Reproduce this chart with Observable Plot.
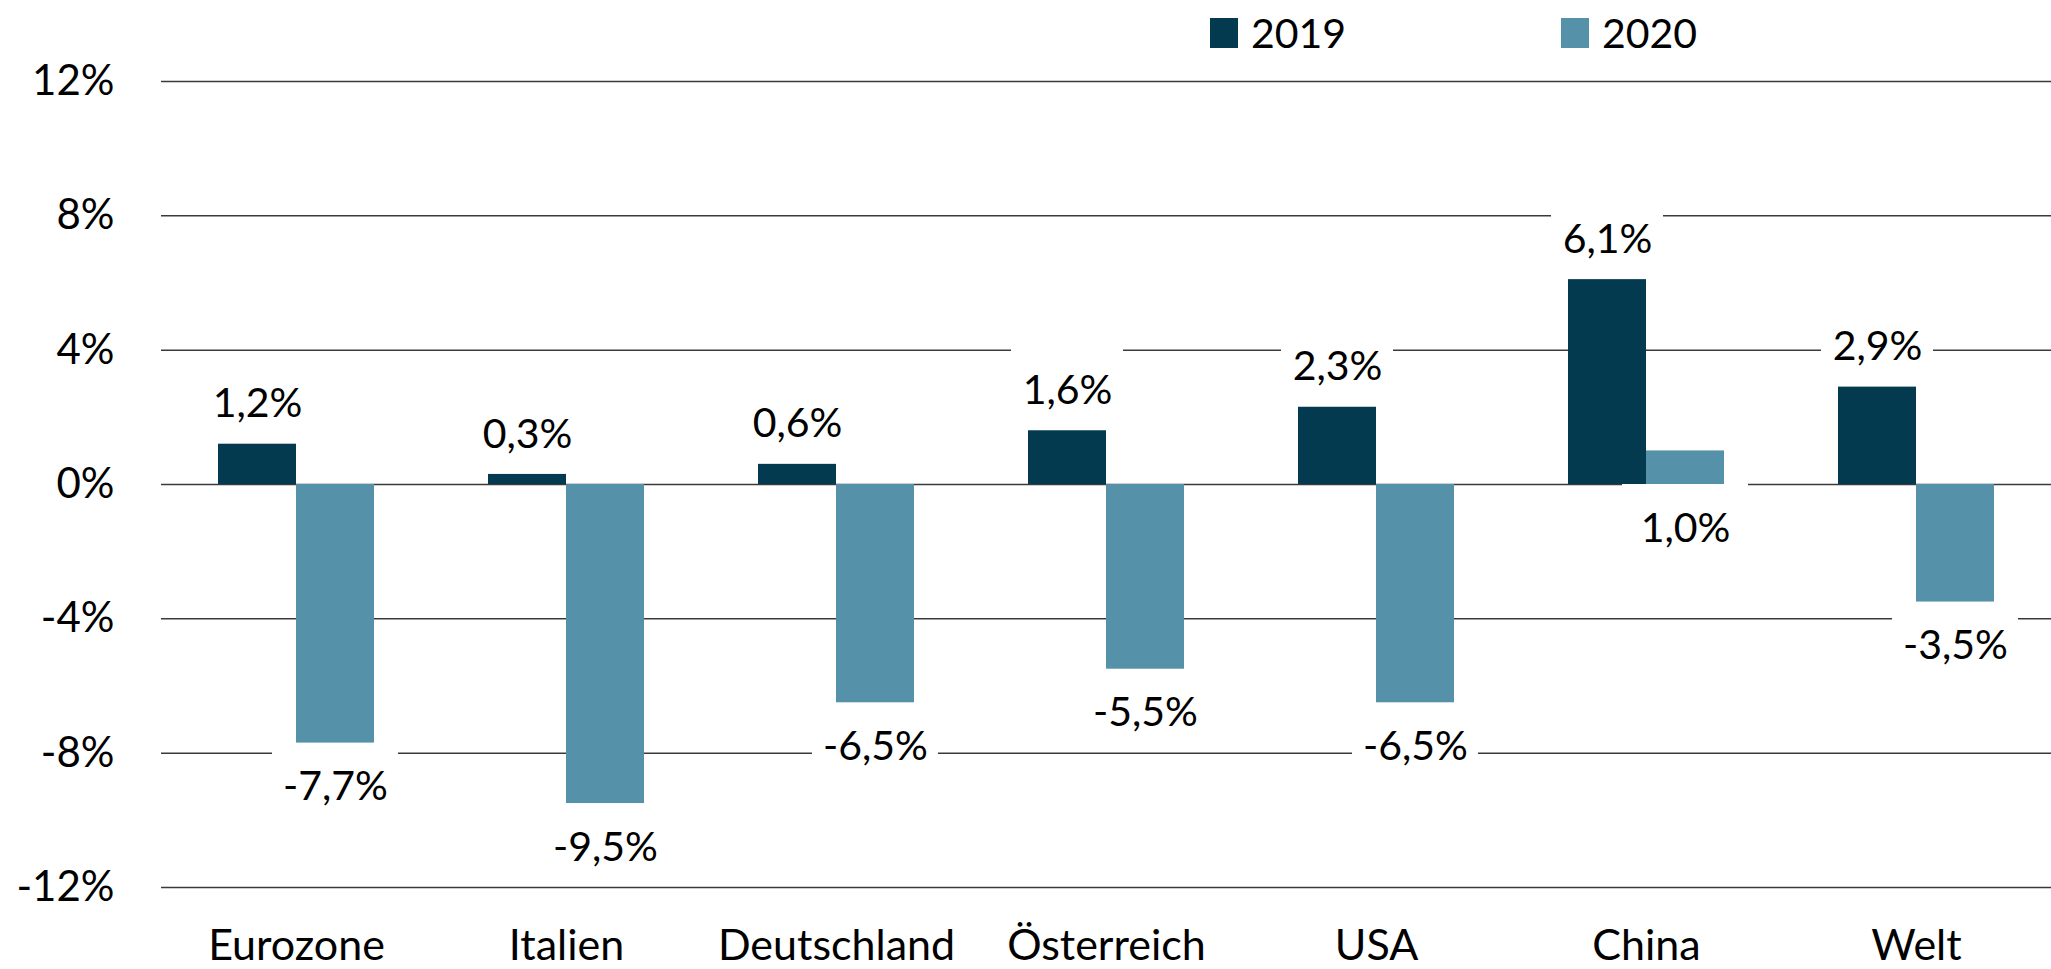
<!DOCTYPE html>
<html>
<head>
<meta charset="utf-8">
<script src="https://cdn.jsdelivr.net/npm/d3@7"></script>
<script src="https://cdn.jsdelivr.net/npm/@observablehq/plot@0.6"></script>
<style>
  html, body { margin: 0; padding: 0; background: #fff; }
  #wrap { position: relative; width: 2051px; height: 969px; }
  #chart svg { display: block; }
  #legend { position: absolute; left: 1210px; top: 8px; display: flex; font-family: Lato, sans-serif; font-size: 41px; color: #000; }
  .item { display: flex; align-items: center; }
  .item:first-child { width: 351px; }
  .sw { width: 28px; height: 30px; margin-right: 13px; }
</style>
</head>
<body>
<div id="wrap">
  <div id="chart"></div>
  <div id="legend"></div>
</div>
<script>
const countries = ["Eurozone", "Italien", "Deutschland", "Österreich", "USA", "China", "Welt"];
const years = ["2019", "2020"];
const growth2019 = [1.2, 0.3, 0.6, 1.6, 2.3, 6.1, 2.9];
const growth2020 = [-7.7, -9.5, -6.5, -5.5, -6.5, 1.0, -3.5];
const yTicks = [-12, -8, -4, 0, 4, 8, 12];
const colors = ["#033a4f", "#5592aa"];

const rows = countries.flatMap((c, i) => [
  {country: c, year: "2019", value: growth2019[i]},
  {country: c, year: "2020", value: growth2020[i]}
]);
const rows2019 = rows.filter(d => d.year === "2019");
const rows2020 = rows.filter(d => d.year === "2020");
const fmt = d => d.value.toFixed(1).replace(".", ",") + "%";
const top2019 = d => Math.max(d.value, 0);
const bottom2020 = d => Math.min(d.value, 0);

const chart = Plot.plot({
  width: 2051,
  height: 969,
  marginLeft: 160,
  marginRight: 0,
  marginTop: 81,
  marginBottom: 82,
  style: {fontFamily: "Lato, sans-serif", fontSize: "40px", color: "#000", background: "white"},
  fx: {domain: countries, padding: 0, label: null},
  x: {domain: years, paddingInner: 0, paddingOuter: 0.73, axis: null},
  y: {domain: [-12, 12], label: null},
  color: {domain: years, range: colors},
  marks: [
    Plot.ruleY(yTicks, {stroke: "#3a3a3a", strokeWidth: 1.5}),
    Plot.barY(rows2019, {fx: "country", x: "year", y1: top2019, y2: top2019, fill: "white",
      dy: -40, insetTop: -44, insetBottom: -36, insetLeft: -17, insetRight: -17}),
    Plot.barY(rows2020, {fx: "country", x: "year", y1: bottom2020, y2: bottom2020, fill: "white",
      dy: 44, insetTop: -48, insetBottom: -34, insetLeft: -24, insetRight: -24}),
    Plot.barY(rows, {fx: "country", x: "year", y: "value", fill: "year"}),
    Plot.text(rows2019, {fx: "country", x: "year", y: top2019, text: fmt, dy: -40,
      lineAnchor: "middle", fill: "#000", fontSize: 41}),
    Plot.text(rows2020, {fx: "country", x: "year", y: bottom2020, text: fmt, dy: 44,
      lineAnchor: "middle", fill: "#000", fontSize: 41}),
    Plot.axisY({ticks: yTicks, tickFormat: d => d + "%", tickSize: 0, tickPadding: 47,
      fontSize: 42, fill: "#000", label: null}),
    Plot.axisFx({anchor: "bottom", tickSize: 0, tickPadding: 42, fontSize: 43, fill: "#000", label: null})
  ]
});
document.getElementById("chart").appendChild(chart);

const legend = document.getElementById("legend");
years.forEach((y, i) => {
  const item = document.createElement("div");
  item.className = "item";
  const sw = document.createElement("div");
  sw.className = "sw";
  sw.style.background = colors[i];
  const t = document.createElement("span");
  t.textContent = y;
  item.appendChild(sw);
  item.appendChild(t);
  legend.appendChild(item);
});
</script>
</body>
</html>
